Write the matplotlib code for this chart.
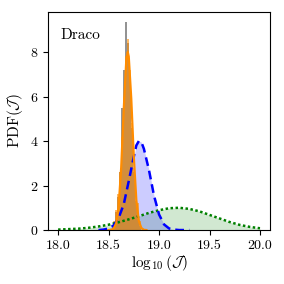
import matplotlib
matplotlib.use("Agg")
import matplotlib.pyplot as plt

plt.rcParams["font.family"] = "serif"
plt.rcParams["font.serif"] = ["cmr10"]
plt.rcParams["mathtext.fontset"] = "cm"
plt.rcParams["axes.unicode_minus"] = False
plt.rcParams["axes.formatter.use_mathtext"] = True

# histogram bin edges and heights
hist_edges = [18.54, 18.56, 18.58, 18.60, 18.62, 18.64, 18.66, 18.68,
              18.70, 18.72, 18.74, 18.76, 18.78, 18.80, 18.82]
grey_hist = [0.3, 0.8, 1.5, 2.6, 5.5, 7.2, 9.35, 8.4, 6.8, 4.6, 2.6, 1.3, 0.6, 0.2]
orange_hist = [0.4, 0.9, 1.6, 2.6, 4.2, 6.0, 7.8, 8.6, 7.2, 4.8, 2.8, 1.6, 1.2, 0.4]

# orange solid curve
orange_x = [18.500, 18.525, 18.550, 18.575, 18.600, 18.625, 18.650, 18.675, 18.690,
            18.700, 18.725, 18.750, 18.775, 18.800, 18.825, 18.850, 18.875]
orange_y = [0.0, 0.01, 0.06, 0.30, 1.08, 2.8, 5.4, 7.6, 8.0,
            7.8, 5.9, 3.3, 1.35, 0.4, 0.09, 0.01, 0.0]

# blue dashed curve
blue_x = [18.40, 18.45, 18.50, 18.55, 18.60, 18.65, 18.70, 18.75, 18.775, 18.80,
          18.825, 18.85, 18.90, 18.95, 19.00, 19.05, 19.10, 19.15, 19.20, 19.25, 19.30]
blue_y = [0.0, 0.02, 0.07, 0.2, 0.55, 1.15, 2.2, 3.3, 3.8, 4.0,
          3.95, 3.65, 2.7, 1.55, 0.7, 0.25, 0.07, 0.02, 0.0, 0.0, 0.0]

# green dotted curve
green_x = [18.0, 18.1, 18.2, 18.3, 18.4, 18.5, 18.6, 18.7, 18.8, 18.9, 19.0,
           19.1, 19.2, 19.3, 19.4, 19.5, 19.6, 19.7, 19.8, 19.9, 20.0]
green_y = [0.02, 0.04, 0.06, 0.10, 0.16, 0.24, 0.35, 0.48, 0.62, 0.77, 0.89,
           0.98, 1.00, 0.95, 0.84, 0.68, 0.52, 0.36, 0.23, 0.14, 0.08]

fig = plt.figure(figsize=(2.84, 2.84), dpi=100)
ax = fig.add_axes([0.169, 0.190, 0.782, 0.768])

ax.fill_between(green_x, green_y, color="green", alpha=0.18, lw=0)
ax.plot(green_x, green_y, color="green", ls=(0, (1, 1)), lw=1.8)
ax.fill_between(blue_x, blue_y, color="blue", alpha=0.2, lw=0)
ax.plot(blue_x, blue_y, color="blue", ls=(0, (3.5, 2)), lw=1.8)

ax.stairs(grey_hist, hist_edges, fill=True, color="grey", alpha=0.85)
ax.stairs(orange_hist, hist_edges, fill=True, color="darkorange", alpha=0.6)
ax.plot(orange_x, orange_y, color="darkorange", lw=1.6)

ax.set_xlim(17.9, 20.1)
ax.set_ylim(0, 9.8)
ax.set_xticks([18.0, 18.5, 19.0, 19.5, 20.0])
ax.set_xticklabels(["18.0", "18.5", "19.0", "19.5", "20.0"])
ax.set_yticks([0, 2, 4, 6, 8])
ax.tick_params(labelsize=10)
ax.set_xlabel(r"$\log_{10}(\mathcal{J})$", fontsize=11, labelpad=1)
ax.set_ylabel(r"$\mathrm{PDF}(\mathcal{J})$", fontsize=11, labelpad=3)
ax.text(0.055, 0.895, "Draco", transform=ax.transAxes, fontsize=11, va="center")

fig.savefig("out.png", dpi=100)
